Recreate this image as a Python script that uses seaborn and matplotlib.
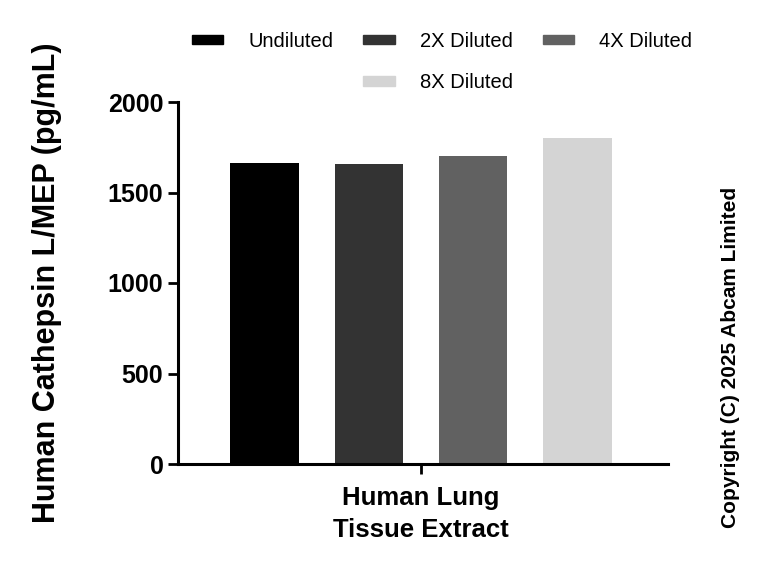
import matplotlib
matplotlib.use("Agg")
import matplotlib.pyplot as plt
import matplotlib.patches as mpatches
import seaborn as sns
import pandas as pd

# data
sample = ["Human Lung\nTissue Extract"]
dilutions = ["Undiluted", "2X Diluted", "4X Diluted", "8X Diluted"]
values = [1665, 1659, 1700, 1803]
colors = ["#000000", "#333333", "#616161", "#d4d4d4"]
yticks = [0, 500, 1000, 1500, 2000]

df = pd.DataFrame({"sample": sample * len(dilutions), "dilution": dilutions, "value": values})

sns.set_style("ticks")
plt.rcParams["font.family"] = ["Liberation Sans", "DejaVu Sans"]
plt.rcParams.update({"text.color": "black", "axes.labelcolor": "black",
                     "xtick.color": "black", "ytick.color": "black"})

fig = plt.figure(figsize=(7.68, 5.70), dpi=100)
ax = fig.add_axes([178 / 768, 1 - 464 / 570, 490 / 768, 362 / 570])

sns.barplot(data=df, x="sample", y="value", hue="dilution", hue_order=dilutions,
            palette=colors, width=0.85, gap=0.34, saturation=1, legend=False,
            edgecolor="none", linewidth=0, ax=ax)

ax.set_xlim(-0.496, 0.504)
ax.set_ylim(0, 2000)
ax.set_yticks(yticks)
ax.set_yticklabels([str(v) for v in yticks], fontsize=18, fontweight="bold")
for lbl in ax.get_xticklabels():
    lbl.set_fontsize(18.5)
    lbl.set_fontweight("bold")
    lbl.set_linespacing(1.4)
ax.set_xlabel("")
ax.set_ylabel("Human Cathepsin L/MEP (pg/mL)", fontsize=22, fontweight="bold", labelpad=33)

sns.despine(ax=ax)
for side in ["left", "bottom"]:
    ax.spines[side].set_linewidth(2.2)
    ax.spines[side].set_color("black")
ax.tick_params(axis="y", width=2, length=7, direction="out", color="black", pad=3.5)
ax.tick_params(axis="x", width=2, length=7, direction="out", color="black", pad=9)
ax.spines["left"].set_bounds(0, 2000)

# legend: 3 columns, 8X Diluted centred on the second row
handles = [mpatches.Patch(color=c, label=d) for c, d in zip(colors, dilutions)]
blank = mpatches.Patch(color="none", label="")
order = [handles[0], blank, handles[1], handles[3], handles[2], blank]
fig.legend(handles=order, labels=[h.get_label() for h in order], ncol=3,
           loc="center", bbox_to_anchor=(442 / 768, 1 - 62 / 570), frameon=False,
           prop={"family": "Liberation Sans", "size": 14.5},
           handlelength=1.55, handleheight=0.35, handletextpad=1.25,
           columnspacing=1.5, labelspacing=1.12)

fig.text(731 / 768, 1 - 357 / 570, "Copyright (C) 2025 Abcam Limited", rotation=90,
         ha="center", va="center", fontsize=15, fontweight="bold")

fig.savefig("out.png", dpi=100)
